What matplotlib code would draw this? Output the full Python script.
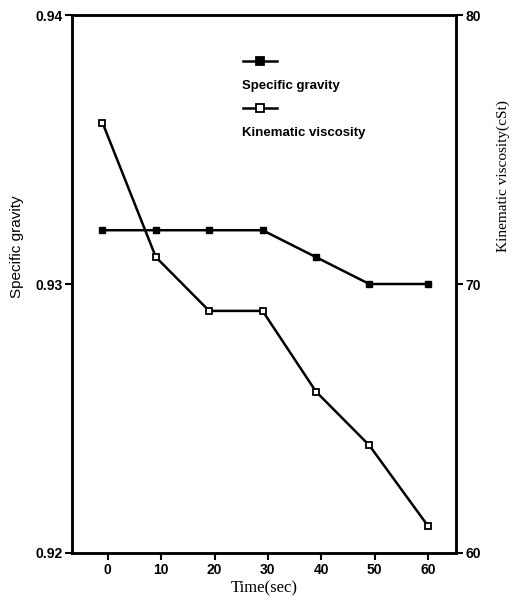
"""Specific gravity and kinematic viscosity against time"""

import matplotlib
matplotlib.use("Agg")
from matplotlib import pyplot as plt
from matplotlib.lines import Line2D

# data
time_sec = [-1, 9, 19, 29, 39, 49, 60]
specific_gravity = [0.932, 0.932, 0.932, 0.932, 0.931, 0.930, 0.930]
kinematic_viscosity = [76, 71, 69, 69, 66, 64, 61]

x_ticks = [0, 10, 20, 30, 40, 50, 60]
sg_ticks = [0.92, 0.93, 0.94]
kv_ticks = [60, 70, 80]

tick_font = {"family": "Liberation Sans", "weight": "bold", "size": 10}

fig = plt.figure(figsize=(5.11, 6.03), dpi=100)
ax = fig.add_axes([0.141, 0.083, 0.751, 0.892])
ax2 = ax.twinx()

ax.plot(time_sec, specific_gravity, color="black", lw=1.8, marker="s",
        ms=5, mfc="black", mec="black")
ax2.plot(time_sec, kinematic_viscosity, color="black", lw=1.8, marker="s",
         ms=5, mfc="white", mec="black", mew=1.3)

ax.set_xlim(-6.7, 65.2)
ax.set_ylim(0.92, 0.94)
ax2.set_ylim(60, 80)

ax.set_xticks(x_ticks)
ax.set_xticklabels([str(t) for t in x_ticks], fontdict=tick_font)
ax.set_yticks(sg_ticks)
ax.set_yticklabels(["0.92", "0.93", "0.94"], fontdict=tick_font)
ax2.set_yticks(kv_ticks)
ax2.set_yticklabels([str(v) for v in kv_ticks], fontdict=tick_font)

for a in (ax, ax2):
    for s in a.spines.values():
        s.set_linewidth(1.8)
    a.tick_params(direction="out", length=5, width=1.5, pad=2)

ax.set_xlabel("Time(sec)", family="Liberation Serif", fontsize=12, labelpad=3)
ax.set_ylabel("Specific gravity", family="Liberation Sans", fontsize=11)
ax.yaxis.set_label_coords(-0.125, 0.57)
ax2.set_ylabel("Kinematic viscosity(cSt)", family="Liberation Serif", fontsize=11)
ax2.yaxis.set_label_coords(1.105, 0.70)

# legend drawn by hand: handle above each label
leg_items = [("Specific gravity", "black"), ("Kinematic viscosity", "white")]
y0 = 0.915
for i, (label, face) in enumerate(leg_items):
    yh = y0 - i * 0.088
    ax.add_line(Line2D([0.445, 0.535], [yh, yh], transform=ax.transAxes,
                       color="black", lw=1.8))
    ax.add_line(Line2D([0.49], [yh], transform=ax.transAxes, marker="s",
                       ms=6, mfc=face, mec="black", mew=1.3, color="black"))
    ax.text(0.443, yh - 0.046, label, transform=ax.transAxes, ha="left",
            va="center", family="Liberation Sans", weight="bold", fontsize=9.5)

fig.savefig("out.png", dpi=100)
